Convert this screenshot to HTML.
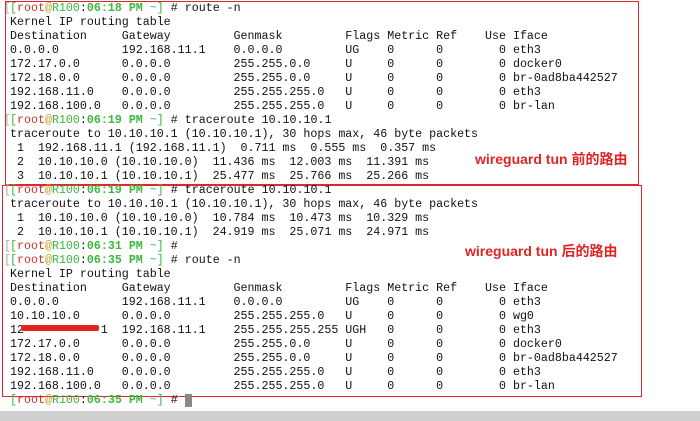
<!DOCTYPE html>
<html><head><meta charset="utf-8"><style>
html,body{margin:0;padding:0;width:700px;height:421px;overflow:hidden;background:#fff;}
.win{position:absolute;left:0;top:0;width:700px;height:411px;background:#fff;border-bottom-left-radius:8px;}
.bot{position:absolute;left:0;top:411px;width:700px;height:10px;background:#cfcfcf;}
.l{position:absolute;left:10px;margin:1px 0 0 0;font-family:"Liberation Mono",monospace;font-size:11.65px;line-height:14px;white-space:pre;color:#111;}
.g{position:absolute;left:4px;margin-top:1px;font-family:"Liberation Mono",monospace;font-size:11.65px;line-height:14px;color:#aaa;}
.r{color:#c8332a}.y{color:#b9a22a}.gr{color:#3cb83c}.b{color:#3cb83c;font-weight:bold}.c{color:#3aa8c8}
.box{position:absolute;border:1.5px solid #e0262a;box-sizing:border-box;}
.lab{position:absolute;font-family:"Liberation Sans","Noto Sans CJK SC",sans-serif;font-weight:bold;font-size:14px;color:#e02424;white-space:nowrap;}
</style></head><body>
<div class="win"></div><div class="bot"></div>
<div class="box" style="left:5px;top:1px;width:634px;height:184px"></div>
<div class="box" style="left:2px;top:185px;width:640px;height:212px"></div>
<div class="g" style="top:1px">[</div>
<div class="g" style="top:113px">[</div>
<div class="g" style="top:183px">[</div>
<div class="g" style="top:239px">[</div>
<div class="g" style="top:253px">[</div>
<div class="l" style="top:1px"><span class="gr">[</span><span class="r">root</span><span class="y">@</span><span class="gr">R100</span>:<span class="b">06:18 PM</span> <span class="c">~</span><span class="gr">]</span> # route -n</div>
<div class="l" style="top:15px">Kernel IP routing table</div>
<div class="l" style="top:29px">Destination     Gateway         Genmask         Flags Metric Ref    Use Iface</div>
<div class="l" style="top:43px">0.0.0.0         192.168.11.1    0.0.0.0         UG    0      0        0 eth3</div>
<div class="l" style="top:57px">172.17.0.0      0.0.0.0         255.255.0.0     U     0      0        0 docker0</div>
<div class="l" style="top:71px">172.18.0.0      0.0.0.0         255.255.0.0     U     0      0        0 br-0ad8ba442527</div>
<div class="l" style="top:85px">192.168.11.0    0.0.0.0         255.255.255.0   U     0      0        0 eth3</div>
<div class="l" style="top:99px">192.168.100.0   0.0.0.0         255.255.255.0   U     0      0        0 br-lan</div>
<div class="l" style="top:113px"><span class="gr">[</span><span class="r">root</span><span class="y">@</span><span class="gr">R100</span>:<span class="b">06:19 PM</span> <span class="c">~</span><span class="gr">]</span> # traceroute 10.10.10.1</div>
<div class="l" style="top:127px">traceroute to 10.10.10.1 (10.10.10.1), 30 hops max, 46 byte packets</div>
<div class="l" style="top:141px"> 1  192.168.11.1 (192.168.11.1)  0.711 ms  0.555 ms  0.357 ms</div>
<div class="l" style="top:155px"> 2  10.10.10.0 (10.10.10.0)  11.436 ms  12.003 ms  11.391 ms</div>
<div class="l" style="top:169px"> 3  10.10.10.1 (10.10.10.1)  25.477 ms  25.766 ms  25.266 ms</div>
<div class="l" style="top:183px"><span class="gr">[</span><span class="r">root</span><span class="y">@</span><span class="gr">R100</span>:<span class="b">06:19 PM</span> <span class="c">~</span><span class="gr">]</span> # traceroute 10.10.10.1</div>
<div class="l" style="top:197px">traceroute to 10.10.10.1 (10.10.10.1), 30 hops max, 46 byte packets</div>
<div class="l" style="top:211px"> 1  10.10.10.0 (10.10.10.0)  10.784 ms  10.473 ms  10.329 ms</div>
<div class="l" style="top:225px"> 2  10.10.10.1 (10.10.10.1)  24.919 ms  25.071 ms  24.971 ms</div>
<div class="l" style="top:239px"><span class="gr">[</span><span class="r">root</span><span class="y">@</span><span class="gr">R100</span>:<span class="b">06:31 PM</span> <span class="c">~</span><span class="gr">]</span> #</div>
<div class="l" style="top:253px"><span class="gr">[</span><span class="r">root</span><span class="y">@</span><span class="gr">R100</span>:<span class="b">06:35 PM</span> <span class="c">~</span><span class="gr">]</span> # route -n</div>
<div class="l" style="top:267px">Kernel IP routing table</div>
<div class="l" style="top:281px">Destination     Gateway         Genmask         Flags Metric Ref    Use Iface</div>
<div class="l" style="top:295px">0.0.0.0         192.168.11.1    0.0.0.0         UG    0      0        0 eth3</div>
<div class="l" style="top:309px">10.10.10.0      0.0.0.0         255.255.255.0   U     0      0        0 wg0</div>
<div class="l" style="top:323px">12           1  192.168.11.1    255.255.255.255 UGH   0      0        0 eth3</div>
<div class="l" style="top:337px">172.17.0.0      0.0.0.0         255.255.0.0     U     0      0        0 docker0</div>
<div class="l" style="top:351px">172.18.0.0      0.0.0.0         255.255.0.0     U     0      0        0 br-0ad8ba442527</div>
<div class="l" style="top:365px">192.168.11.0    0.0.0.0         255.255.255.0   U     0      0        0 eth3</div>
<div class="l" style="top:379px">192.168.100.0   0.0.0.0         255.255.255.0   U     0      0        0 br-lan</div>
<div class="l" style="top:393px"><span class="gr">[</span><span class="r">root</span><span class="y">@</span><span class="gr">R100</span>:<span class="b">06:35 PM</span> <span class="c">~</span><span class="gr">]</span> #</div>
<div style="position:absolute;left:21px;top:325px;width:78px;height:6px;background:#e52420;border-radius:2px"></div>
<div style="position:absolute;left:185px;top:394px;width:7px;height:13px;background:#888"></div>
<div class="lab" style="left:475px;top:149px">wireguard tun 前的路由</div>
<div class="lab" style="left:465px;top:241px">wireguard tun 后的路由</div>
</body></html>
